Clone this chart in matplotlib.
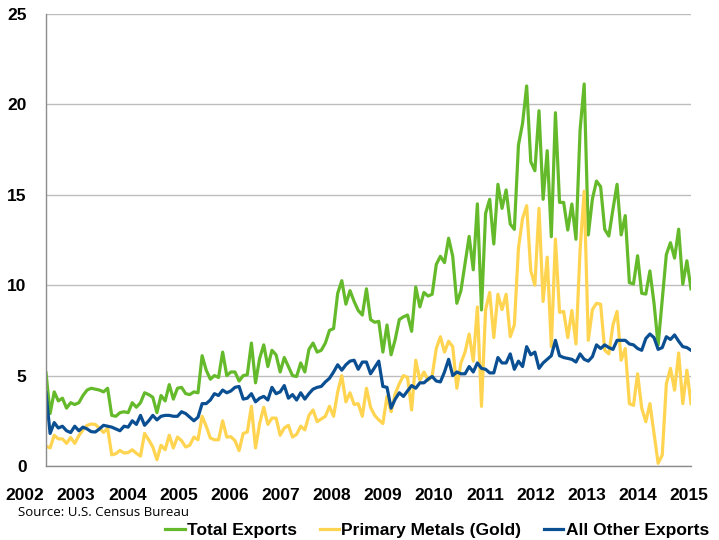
import matplotlib
matplotlib.use("Agg")
import matplotlib.pyplot as plt
import numpy as np

# monthly exports, Jan 2002 - Feb 2015
total_exports = [
    5.16, 2.9, 4.1, 3.6, 3.75, 3.2, 3.5, 3.4, 3.5, 3.9, 4.2, 4.3,
    4.25, 4.2, 4.1, 4.3, 2.8, 2.75, 2.95, 3.0, 2.95, 3.5, 3.25, 3.5,
    4.05, 3.95, 3.8, 2.95, 3.9, 3.6, 4.5, 3.7, 4.3, 4.35, 4.0, 3.95,
    4.1, 4.05, 6.1, 5.3, 4.8, 5.0, 4.9, 6.3, 5.0, 5.2, 5.2, 4.7,
    5.0, 5.05, 6.8, 4.6, 5.95, 6.7, 5.5, 6.4, 6.15, 5.2, 6.0, 5.5,
    5.0, 4.95, 5.7, 5.2, 6.45, 6.8, 6.3, 6.4, 6.8, 7.5, 7.6, 9.55,
    10.25, 8.95, 9.7, 9.1, 8.6, 8.35, 9.8, 8.1, 7.95, 8.0, 6.3, 7.8,
    6.15, 7.0, 8.1, 8.25, 8.35, 7.45, 9.9, 8.8, 9.6, 9.4, 9.5, 11.15,
    11.6, 11.25, 12.6, 11.6, 9.0, 9.7, 11.2, 12.7, 10.85, 14.5, 8.63, 13.97,
    14.75, 12.28, 15.58, 14.25, 15.27, 13.38, 13.09, 17.75, 18.95, 21.02, 16.83, 16.33,
    19.65, 14.75, 17.44, 12.68, 19.54, 14.58, 14.58, 13.05, 14.49, 12.54, 18.58, 21.13,
    12.78, 14.77, 15.76, 15.45, 13.09, 12.72, 14.2, 15.58, 12.78, 13.85, 10.14, 10.07,
    11.63, 9.55, 9.51, 10.79, 9.0, 6.69, 9.2, 11.7, 12.35, 11.5, 13.1, 10.05,
    11.35, 9.8,
]

gold_exports = [
    1.1, 1.0, 1.7, 1.5, 1.5, 1.25, 1.58, 1.25, 1.68, 2.0, 2.25, 2.32,
    2.3, 2.08, 1.86, 2.08, 0.62, 0.68, 0.86, 0.72, 0.74, 0.9, 0.7, 0.55,
    1.8, 1.45, 1.05, 0.35, 1.15, 0.9, 1.7, 1.0, 1.6, 1.4, 1.05, 1.15,
    1.6, 1.45, 2.75, 2.2, 1.55, 1.45, 1.45, 2.5, 1.6, 1.62, 1.4, 0.85,
    1.8, 1.88, 3.3, 1.0, 2.35, 3.25, 2.3, 2.65, 2.65, 1.7, 2.1, 2.25,
    1.6, 1.75, 2.2, 2.0, 2.8, 3.1, 2.45, 2.6, 2.75, 3.3, 2.75, 4.1,
    5.0, 3.55, 4.05, 3.4, 3.45, 2.75, 4.3, 3.25, 2.8, 2.55, 2.35, 3.85,
    3.0, 4.0, 4.55, 5.0, 4.9, 3.1, 5.85, 4.75, 5.2, 4.75, 5.0, 6.5,
    7.15, 6.3, 6.9, 6.6, 4.3, 5.7, 6.3, 7.3, 5.8, 8.8, 3.3, 8.65,
    9.6, 7.1, 9.5, 8.65, 9.5, 7.15, 7.8, 12.05, 13.7, 14.4, 10.8, 10.0,
    14.25, 9.1, 11.55, 6.6, 12.55, 8.5, 8.55, 7.1, 8.6, 6.75, 11.95, 15.2,
    6.95, 8.65, 9.0, 8.95, 6.4, 6.2, 7.8, 8.55, 5.85, 6.5, 3.45, 3.35,
    5.1, 3.2, 2.45, 3.45, 1.8, 0.15, 0.6, 4.55, 5.4, 4.2, 6.25, 3.45,
    5.3, 3.45,
]

other_exports = [
    4.05, 1.8, 2.4, 2.1, 2.2, 1.95, 1.85, 2.2, 1.95, 2.15, 2.05, 1.9,
    1.88, 2.05, 2.25, 2.2, 2.15, 2.05, 1.95, 2.2, 2.15, 2.5, 2.3, 2.8,
    2.25, 2.5, 2.8, 2.55, 2.75, 2.8, 2.8, 2.75, 2.75, 3.0, 2.9, 2.7,
    2.5, 2.7, 3.45, 3.45, 3.65, 4.0, 3.9, 4.2, 4.05, 4.15, 4.35, 4.4,
    3.7, 3.75, 4.0, 3.55, 3.75, 3.85, 3.65, 4.35, 4.0, 4.1, 4.45, 3.75,
    3.95, 3.65, 4.05, 3.7, 4.0, 4.25, 4.35, 4.4, 4.65, 4.85, 5.2, 5.6,
    5.3, 5.6, 5.8, 5.85, 5.35, 5.75, 5.75, 5.1, 5.45, 5.8, 4.4, 4.35,
    3.2, 3.7, 4.05, 3.85, 4.15, 4.45, 4.3, 4.6, 4.6, 4.8, 4.95, 4.7,
    4.65, 5.2, 5.9, 5.0, 5.2, 5.1, 5.1, 5.5, 5.2, 5.7, 5.4, 5.35,
    5.15, 5.15, 6.0, 5.7, 5.7, 6.2, 5.35, 5.8, 5.5, 6.6, 6.15, 6.3,
    5.4, 5.7, 5.9, 6.1, 6.95, 6.1, 6.0, 5.95, 5.9, 5.75, 6.2, 5.9,
    5.8, 6.05, 6.7, 6.5, 6.7, 6.55, 6.45, 6.95, 6.95, 6.95, 6.75, 6.7,
    6.5, 6.4, 7.05, 7.3, 7.1, 6.45, 6.55, 7.15, 7.0, 7.25, 6.9, 6.6,
    6.55, 6.4,
]

year_labels = [str(y) for y in range(2002, 2016)]
y_ticks = [0, 5, 10, 15, 20, 25]

GREEN = "#65BA2B"
YELLOW = "#FFD450"
BLUE = "#0B4F93"


def main():
    plt.rcParams["font.family"] = ["Liberation Sans", "DejaVu Sans"]
    fig = plt.figure(figsize=(7.19, 5.40), dpi=100)
    ax = fig.add_axes([46 / 719, 1 - 466 / 540, 645 / 719, 452 / 540])

    x = np.arange(len(total_exports))
    ax.plot(x, total_exports, color=GREEN, lw=2.3, label="Total Exports",
            solid_joinstyle="round")
    ax.plot(x, gold_exports, color=YELLOW, lw=2.3, label="Primary Metals (Gold)",
            solid_joinstyle="round")
    ax.plot(x, other_exports, color=BLUE, lw=2.3, label="All Other Exports",
            solid_joinstyle="round")

    ax.set_xlim(0, len(total_exports) - 1)
    ax.set_ylim(0, 25)
    ax.set_yticks(y_ticks)
    ax.set_yticklabels([str(t) for t in y_ticks], fontsize=12.5, fontweight="bold")
    ax.tick_params(axis="y", length=0, pad=14)
    ax.set_xticks([])
    ax.yaxis.grid(True, color="#BDBDBD", lw=1.0)
    ax.set_axisbelow(True)
    for side in ["top", "right"]:
        ax.spines[side].set_visible(False)
    ax.spines["left"].set_color("#8C8C8C")
    ax.spines["bottom"].set_color("#8C8C8C")
    ax.spines["left"].set_linewidth(1.0)
    ax.spines["bottom"].set_linewidth(1.0)

    # year labels, spaced like the original category axis
    for k, lab in enumerate(year_labels):
        px = 25 + k * 51.1
        ax.text((px - 46) / 645, -29 / 452, lab, transform=ax.transAxes,
                ha="center", va="center", fontsize=12.5, fontweight="bold",
                clip_on=False)

    fig.text(18 / 719, 1 - 513 / 540, "Source: U.S. Census Bureau",
             fontsize=9.5, family=["Open Sans", "DejaVu Sans"], va="center")

    fig.legend(loc="center", bbox_to_anchor=(0.608, 1 - 530 / 540), ncol=3,
               frameon=False, handlelength=1.1, handletextpad=0.15,
               columnspacing=1.3, prop={"weight": "bold", "size": 12.5})

    fig.savefig("out.png", dpi=100)


if __name__ == '__main__':
    main()
